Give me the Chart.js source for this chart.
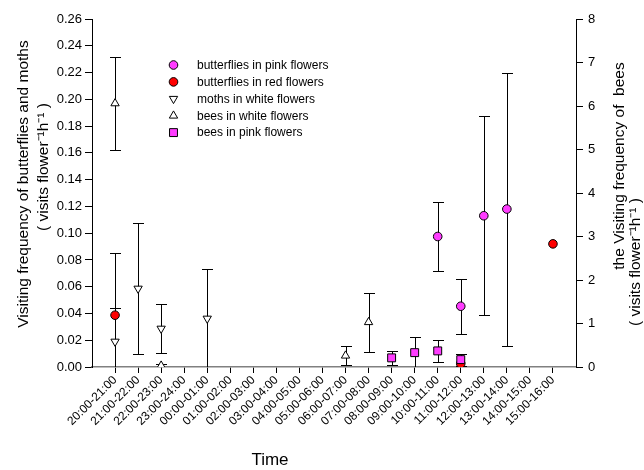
<!DOCTYPE html>
<html lang="en">
<head>
<meta charset="UTF-8">
<title>Visiting frequency</title>
<script src="https://cdn.jsdelivr.net/npm/chart.js"></script>
<style>
    html, body { margin: 0; padding: 0; background: #fff; }
    #wrap { width: 644px; height: 470px; }
</style>
</head>
<body>
<div id="wrap"><canvas id="visitChart"></canvas></div>
<script>
    // x categories
    const timeSlots = ['20:00-21:00', '21:00-22:00', '22:00-23:00', '23:00-24:00', '00:00-01:00',
        '01:00-02:00', '02:00-03:00', '03:00-04:00', '04:00-05:00', '05:00-06:00', '06:00-07:00',
        '07:00-08:00', '08:00-09:00', '09:00-10:00', '10:00-11:00', '11:00-12:00', '12:00-13:00',
        '13:00-14:00', '14:00-15:00', '15:00-16:00'];

    const N = null;
    // left axis (butterflies and moths)
    const butterflyPink    = [N, N, N, N, N, N, N, N, N, N, N, N, N, N, 0.0975, 0.0454, 0.113, 0.118, N, N];
    const butterflyPinkErr = [N, N, N, N, N, N, N, N, N, N, N, N, N, N, 0.026, 0.0205, 0.0743, 0.102, N, N];
    const butterflyRed      = [0.0387, N, N, N, N, N, N, N, N, N, N, N, N, N, N, 0.0025, N, N, N, 0.092];
    const butterflyRedErrUp = [0.0057, N, N, N, N, N, N, N, N, N, N, N, N, N, N, N, N, N, N, N];
    const mothWhite    = [0.019, 0.0586, 0.0287, N, 0.0362, N, N, N, N, N, N, N, N, N, N, N, N, N, N, N];
    const mothWhiteErr = [0.066, 0.049, 0.0185, N, 0.037, N, N, N, N, N, N, N, N, N, N, N, N, N, N, N];
    // right axis (bees)
    const beeWhite    = [6.06, N, 0.03, N, N, N, N, N, N, N, 0.26, 1.03, N, N, N, N, N, N, N, N];
    const beeWhiteErr = [1.07, N, 0.05, N, N, N, N, N, N, N, 0.22, 0.68, N, N, N, N, N, N, N, N];
    const beePink    = [N, N, N, N, N, N, N, N, N, N, N, N, 0.21, 0.33, 0.37, 0.17, N, N, N, N];
    const beePinkErr = [N, N, N, N, N, N, N, N, N, N, N, N, 0.16, 0.36, 0.25, 0.14, N, N, N, N];

    const leftTicks = [0, 0.02, 0.04, 0.06, 0.08, 0.10, 0.12, 0.14, 0.16, 0.18, 0.20, 0.22, 0.24, 0.26];
    const rightTicks = [0, 1, 2, 3, 4, 5, 6, 7, 8];

    const pink = '#ff3cff';
    const red = '#ff0000';

    function pts(vals) {
        return timeSlots.map((t, i) => ({x: i, y: vals[i]}));
    }

    function series(label, vals, up, down, axis, style, fill, radius, rotation, order) {
        return {
            label: label,
            data: pts(vals),
            errUp: up,
            errDown: down,
            yAxisID: axis,
            showLine: false,
            pointStyle: style,
            pointRadius: radius,
            pointHoverRadius: radius,
            pointRotation: rotation,
            pointBackgroundColor: fill,
            pointBorderColor: '#000',
            pointBorderWidth: 1,
            borderColor: '#000',
            backgroundColor: fill,
            order: order
        };
    }

    const datasets = [
        series('butterflies in pink flowers', butterflyPink, butterflyPinkErr, butterflyPinkErr, 'yL', 'circle', pink, 4.3, 0, 1),
        series('butterflies in red flowers', butterflyRed, butterflyRedErrUp, [], 'yL', 'circle', red, 4.3, 0, 3),
        series('moths in white flowers', mothWhite, mothWhiteErr, mothWhiteErr, 'yL', 'triangle', '#fff', 4.8, 180, 2),
        series('bees in white flowers', beeWhite, beeWhiteErr, beeWhiteErr, 'yR', 'triangle', '#fff', 4.8, 0, 2),
        series('bees in pink flowers', beePink, beePinkErr, beePinkErr, 'yR', 'rect', pink, 5.6, 0, 0)
    ];

    // vertical error bars with caps, drawn under the markers
    const errorBars = {
        id: 'errorBars',
        beforeDatasetsDraw(chart) {
            const ctx = chart.ctx;
            const area = chart.chartArea;
            ctx.save();
            ctx.beginPath();
            ctx.rect(area.left, area.top - 1, area.right - area.left, area.bottom - area.top + 1);
            ctx.clip();
            ctx.strokeStyle = '#000';
            ctx.lineWidth = 1;
            chart.data.datasets.forEach((ds, di) => {
                const meta = chart.getDatasetMeta(di);
                const ys = chart.scales[ds.yAxisID];
                ds.data.forEach((p, i) => {
                    if (p.y == null) return;
                    const up = ds.errUp[i], dn = ds.errDown[i];
                    if (up == null && dn == null) return;
                    const x = Math.round(meta.data[i].x) + 0.5;
                    const y0 = ys.getPixelForValue(p.y);
                    const ends = [];
                    if (up != null) ends.push(ys.getPixelForValue(p.y + up));
                    if (dn != null) ends.push(ys.getPixelForValue(p.y - dn));
                    ends.forEach(e => {
                        const ye = Math.round(e) + 0.5;
                        ctx.beginPath();
                        ctx.moveTo(x, y0);
                        ctx.lineTo(x, ye);
                        ctx.moveTo(x - 5.5, ye);
                        ctx.lineTo(x + 5.5, ye);
                        ctx.stroke();
                    });
                });
            });
            ctx.restore();
        }
    };

    // legend inside the plot, axis titles with superscripts
    const extras = {
        id: 'extras',
        afterDraw(chart) {
            const ctx = chart.ctx;
            ctx.save();
            ctx.fillStyle = '#000';
            ctx.font = '12px "Liberation Sans", Arial, sans-serif';
            ctx.textBaseline = 'middle';
            const rows = [0, 1, 2, 3, 4];
            rows.forEach(k => {
                const ds = chart.data.datasets[k];
                const y = 65 + k * 16.9;
                ctx.lineWidth = 1;
                ctx.strokeStyle = '#000';
                ctx.fillStyle = ds.pointBackgroundColor;
                Chart.helpers.drawPoint(ctx, {
                    pointStyle: ds.pointStyle,
                    rotation: ds.pointRotation,
                    borderWidth: 1,
                    radius: ds.pointRadius
                }, 173.5, y);
                ctx.fillStyle = '#000';
                ctx.textAlign = 'left';
                ctx.fillText(ds.label, 197, y + 0.5);
            });

            ctx.textAlign = 'center';
            ctx.font = '15.5px "Liberation Sans", Arial, sans-serif';
            const drawV = (text, x, y) => {
                ctx.save();
                ctx.translate(x, y);
                ctx.rotate(-Math.PI / 2);
                ctx.fillText(text, 0, 0);
                ctx.restore();
            };
            drawV('Visiting frequency of butterflies and moths', 24, 184);
            drawV('( visits flower\u207B\u00B9h\u207B\u00B9 )', 44, 167);
            drawV('the Visiting frequency of  bees', 620, 166);
            drawV('( visits flower\u207B\u00B9h\u207B\u00B9 )', 636, 262);

            ctx.font = '17px "Liberation Sans", Arial, sans-serif';
            ctx.fillText('Time', 270, 460);
            ctx.restore();
        }
    };

    const tickFont = {family: '"Liberation Sans", Arial, sans-serif', size: 13};

    new Chart(document.getElementById('visitChart'), {
        type: 'line',
        data: {datasets: datasets},
        options: {
            responsive: true,
            maintainAspectRatio: false,
            animation: false,
            layout: {padding: {top: 19, left: 0, right: 0, bottom: 0}},
            plugins: {legend: {display: false}, tooltip: {enabled: false}},
            scales: {
                x: {
                    type: 'linear',
                    min: -1,
                    max: 20,
                    afterBuildTicks: s => {
                        s.ticks = timeSlots.map((t, i) => ({value: i}));
                    },
                    afterFit: s => { s.height = 103; },
                    border: {color: '#808080', width: 1.5},
                    grid: {drawOnChartArea: false, color: '#000', tickLength: 6},
                    ticks: {
                        color: '#000',
                        autoSkip: false,
                        maxRotation: 45,
                        minRotation: 45,
                        padding: 0,
                        font: {family: tickFont.family, size: 12},
                        callback: v => timeSlots[v]
                    }
                },
                yL: {
                    position: 'left',
                    min: 0,
                    max: 0.26,
                    afterBuildTicks: s => { s.ticks = leftTicks.map(v => ({value: v})); },
                    afterFit: s => { s.width = 92; },
                    border: {color: '#000', width: 1},
                    grid: {drawOnChartArea: false, color: '#000', tickLength: 7},
                    ticks: {color: '#000', font: tickFont, padding: 3, callback: v => v.toFixed(2)}
                },
                yR: {
                    position: 'right',
                    min: 0,
                    max: 8,
                    afterBuildTicks: s => { s.ticks = rightTicks.map(v => ({value: v})); },
                    afterFit: s => { s.width = 68; },
                    border: {color: '#000', width: 1},
                    grid: {drawOnChartArea: false, color: '#000', tickLength: 7},
                    ticks: {color: '#000', font: tickFont, padding: 5, callback: v => String(v)}
                }
            }
        },
        plugins: [errorBars, extras]
    });
</script>
</body>
</html>
